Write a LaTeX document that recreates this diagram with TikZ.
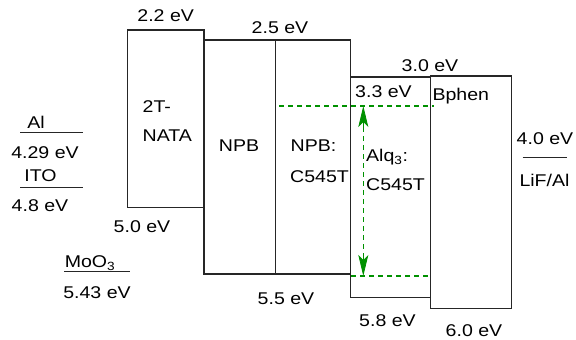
\documentclass[tikz,border=0pt]{standalone}
\usepackage{fontspec}
\setmainfont{Liberation Sans}[FakeStretch=1.15]
\usetikzlibrary{arrows.meta,calc}
\definecolor{dgreen}{RGB}{0,145,0}
\tikzset{
  lvl/.style={draw=black!85, line width=1.2pt},
  lbl/.style={inner sep=0pt, font=\fontsize{17}{20}\selectfont, anchor=base},
  lbll/.style={lbl, anchor=base west},
  gdash/.style={draw=dgreen, line width=1.2pt, dash pattern=on 5pt off 4pt},
  gtip/.style={draw=dgreen, fill=dgreen, line width=0.8pt, -{Stealth[length=21pt,width=10pt,inset=5pt]}}
}
\begin{document}
\begin{tikzpicture}[x=1pt,y=-1pt]
\useasboundingbox (0,0) rectangle (576,340);
% boxes
\draw[lvl] (127.3,30) rectangle (204,207.3);
\draw[lvl] (204,40) rectangle (275.3,274);
\draw[lvl] (275.3,40) rectangle (350.7,274);
\draw[lvl] (350.7,77) rectangle (430.7,297.5);
\draw[lvl] (430.7,76) rectangle (511.7,308.3);
% green dashed levels
\coordinate (gtl) at (279,106);
\coordinate (gtr) at (434,106);
\coordinate (gbl) at (351,276);
\coordinate (gbr) at (430.7,276);
\coordinate (at) at (363.3,106);
\coordinate (ab) at (363.3,276);
\draw[gdash] (gtl) -- (gtr);
\draw[gdash] (gbl) -- (gbr);
\draw[gdash] ($(at)+(0,12)$) -- ($(ab)+(0,-12)$);
\draw[gtip] ($(at)+(0,23)$) -- (at);
\draw[gtip] ($(ab)+(0,-23)$) -- (ab);
% box labels
\node[lbl] (l22) at (165.7,21) {2.2 eV};
\node[lbl] (l25) at (280,33) {2.5 eV};
\node[lbll] (nata1) at (142.5,112.7) {2T-};
\node[lbll] (nata2) at (142.5,141.7) {NATA};
\node[lbl] (npb) at (239,151) {NPB};
\node[lbll] (npbc1) at (290.5,151) {NPB:};
\node[lbll] (npbc2) at (290,182.3) {C545T};
\node[lbll] (l33) at (355,97) {3.3 eV};
\node[lbl] (l30) at (430,71.5) {3.0 eV};
\node[lbll] (bphen) at (432.3,100.7) {Bphen};
\node[lbll] (alq1) at (366,161.7) {Alq\textsubscript{3}:};
\node[lbll] (alq2) at (366,190) {C545T};
\node[lbl] (l50) at (142,232.3) {5.0 eV};
\node[lbl] (l55) at (286,304) {5.5 eV};
\node[lbl] (l58) at (387.5,326) {5.8 eV};
\node[lbl] (l60) at (474,336.7) {6.0 eV};
% right electrode
\node[lbl] (l40) at (545,144.3) {4.0 eV};
\coordinate (r1a) at (522.7,157.7);
\coordinate (r1b) at (566.7,157.7);
\draw[lvl] (r1a) -- (r1b);
\node[lbl] (lif) at (544.5,186.7) {LiF/Al};
% left electrodes
\node[lbl] (al) at (36,128.3) {Al};
\coordinate (e1a) at (20,132.7);
\coordinate (e1b) at (82.7,132.7);
\draw[lvl] (e1a) -- (e1b);
\node[lbl] (l429) at (45,158.3) {4.29 eV};
\node[lbl] (ito) at (40.5,181.7) {ITO};
\coordinate (e2a) at (20,187.3);
\coordinate (e2b) at (82.7,187.3);
\draw[lvl] (e2a) -- (e2b);
\node[lbl] (l48) at (40,211.7) {4.8 eV};
\node[lbl] (moo) at (90,267.7) {MoO\textsubscript{3}};
\coordinate (e3a) at (64,271.7);
\coordinate (e3b) at (130,271.7);
\draw[lvl] (e3a) -- (e3b);
\node[lbl] (l543) at (97,298.3) {5.43 eV};
\end{tikzpicture}
\end{document}
